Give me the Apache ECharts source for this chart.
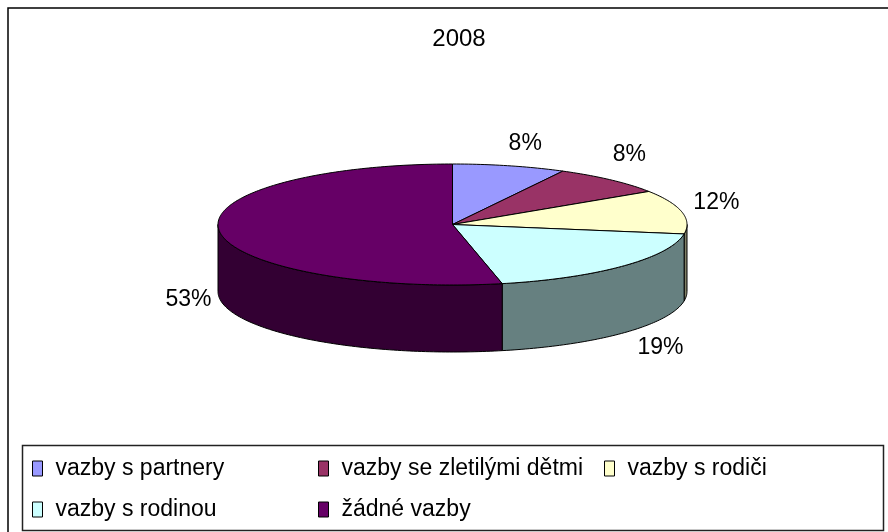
<!DOCTYPE html>
<html><head><meta charset="utf-8">
<script src="https://cdn.jsdelivr.net/npm/echarts@6/dist/echarts.min.js"></script>
<style>html,body{margin:0;padding:0;background:#fff}#c{width:888px;height:532px}</style>
</head><body><div id="c"></div><script>
// ---- data ----
const chartTitle = '2008';
const categories = ['vazby s partnery', 'vazby se zletilými dětmi', 'vazby s rodiči', 'vazby s rodinou', 'žádné vazby'];
const values = [7.8, 8.0, 11.7, 19.1, 53.4];
// ---- styles ----
const colors = ['#9999FF', '#993366', '#FFFFCC', '#CCFFFF', '#660066'];
const labelNudge = [[11, -3], [5, -10], [15, -5], [23, 1], [-11, 0]];
const legendSlots = [[32, 457], [318, 457], [604, 457], [32, 498], [318, 498]];
const FONT = 'Liberation Sans, Arial, sans-serif';

const total = values.reduce((a, b) => a + b, 0);
const cum = []; let acc = 0; values.forEach(v => { cum.push(acc); acc += v; });
const CX = 452.5, CY = 224.5, RX = 234.5, RY = 60.5, DEPTH = 67;

function pt(th, dy) { return [CX + RX * Math.sin(th), CY - RY * Math.cos(th) + (dy || 0)]; }
function arc(a, b, dy) {
  const n = Math.max(2, Math.ceil(Math.abs(b - a) / (Math.PI / 180)));
  const out = [];
  for (let k = 0; k <= n; k++) out.push(pt(a + (b - a) * k / n, dy));
  return out;
}
function shade(hex, f) {
  const n = parseInt(hex.slice(1), 16);
  const r = Math.round(((n >> 16) & 255) * f), g = Math.round(((n >> 8) & 255) * f), b = Math.round((n & 255) * f);
  return 'rgb(' + r + ',' + g + ',' + b + ')';
}
function makeRender(i) {
  return function (params, api) {
    const v = api.value(0);
    const a0 = cum[i] / total * 2 * Math.PI, a1 = a0 + v / total * 2 * Math.PI;
    const children = [];
    const s0 = Math.max(a0, Math.PI / 2), s1 = Math.min(a1, 1.5 * Math.PI);
    if (s1 > s0) {
      const top = arc(s0, s1, 0), bot = arc(s1, s0, DEPTH);
      children.push({ type: 'polygon', shape: { points: top.concat(bot) },
        style: { fill: shade(colors[i], 0.5), stroke: '#000', lineWidth: 1 } });
    }
    children.push({ type: 'polygon', shape: { points: [[CX, CY]].concat(arc(a0, a1, 0)) },
      style: { fill: colors[i], stroke: '#000', lineWidth: 1 } });
    const m = (a0 + a1) / 2, k = 20;
    const lx = CX + (RX + k) * Math.sin(m) + labelNudge[i][0];
    const ly = CY - (RY + k) * Math.cos(m) + (Math.cos(m) < 0 ? DEPTH : 0) + labelNudge[i][1];
    children.push({ type: 'text', x: lx, y: ly,
      style: { text: Math.round(v / total * 100) + '%', fill: '#000', font: '23px ' + FONT,
        align: 'center', verticalAlign: 'middle' } });
    return { type: 'group', children };
  };
}

const legends = categories.map((name, i) => ({
  orient: 'horizontal', left: legendSlots[i][0], top: legendSlots[i][1], padding: 0,
  itemGap: 0, itemWidth: 10, itemHeight: 15, icon: 'rect', selectedMode: false,
  itemStyle: { borderColor: '#000', borderWidth: 1 },
  textStyle: { fontFamily: FONT, fontSize: 23, color: '#000', lineHeight: 15, padding: [0, 0, 0, 8] },
  data: [name]
}));

const chart = echarts.init(document.getElementById('c'), null, { renderer: 'canvas' });
chart.setOption({
  animation: false,
  backgroundColor: '#fff',
  title: { text: chartTitle, left: 454, top: 22, textAlign: 'center',
    textStyle: { fontFamily: FONT, fontSize: 24, fontWeight: 'normal', color: '#000' } },
  graphic: [
    { type: 'rect', z: 0, shape: { x: 8, y: 8, width: 900, height: 600 },
      style: { fill: null, stroke: '#000', lineWidth: 1.5 } },
    { type: 'rect', z: 0, shape: { x: 22.5, y: 445.5, width: 861, height: 85 },
      style: { fill: '#fff', stroke: '#222', lineWidth: 1.5 } }
  ],
  legend: legends,
  series: categories.map((name, i) => ({
    type: 'custom', name: name, coordinateSystem: 'none',
    itemStyle: { color: colors[i] },
    data: [[values[i]]],
    renderItem: makeRender(i)
  }))
});
</script></body></html>
